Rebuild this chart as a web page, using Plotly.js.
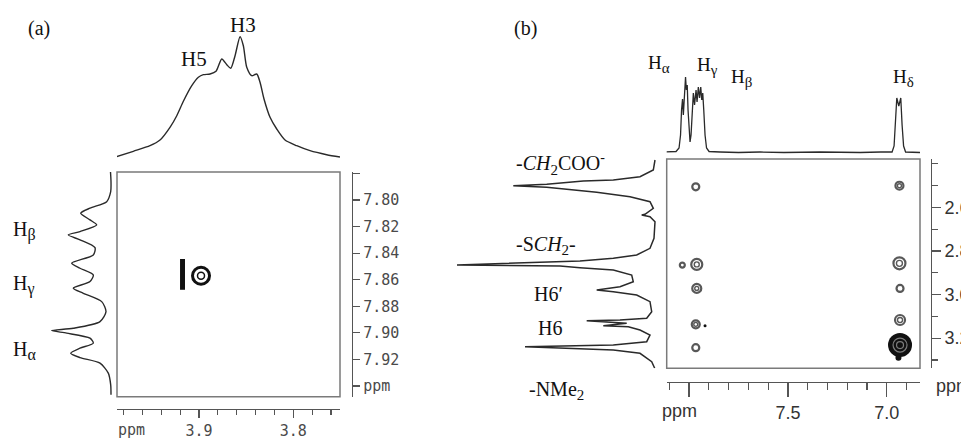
<!DOCTYPE html>
<html><head><meta charset="utf-8">
<script src="https://cdn.plot.ly/plotly-3.0.1.min.js"></script>
<style>html,body{margin:0;padding:0;background:#fff;} #chart{width:961px;height:439px;}</style>
</head><body><div id="chart"></div>
<script>
// ---------------- Panel (a) data ----------------
const aTopPpm = [3.9873, 3.9697, 3.952, 3.9414, 3.9308, 3.9236, 3.9166, 3.9077, 3.9007, 3.8954, 3.8883, 3.882, 3.8759, 3.8706, 3.8664, 3.8618, 3.8565, 3.853, 3.8494, 3.8441, 3.8388, 3.8353, 3.8311, 3.8247, 3.8176, 3.8088, 3.7964, 3.7823, 3.7646, 3.7505];
const aTopInt = [0.3, 5.7, 11.3, 17, 29.7, 41.3, 55.7, 71.3, 79.7, 82.3, 83, 85.7, 98, 92.3, 88.7, 101.3, 120.3, 111.3, 89.7, 81.3, 83, 74.7, 58, 39.7, 28, 17, 11.3, 6.3, 2.3, 0];
const aLeftPpm = [7.779, 7.7862, 7.7938, 7.8013, 7.8062, 7.81, 7.815, 7.8188, 7.8238, 7.8263, 7.83, 7.8359, 7.8414, 7.8476, 7.8514, 7.8564, 7.8614, 7.8664, 7.8702, 7.8765, 7.884, 7.8915, 7.8965, 7.8983, 7.9002, 7.904, 7.9077, 7.9115, 7.9153, 7.9186, 7.9228, 7.9303, 7.9391, 7.9466];
const aLeftInt = [0.5, 0, 0.3, 4.3, 21, 30.3, 21, 14.3, 31, 42.7, 31, 16, 17.7, 39.3, 31, 17.7, 21, 37.7, 27.7, 9.3, 5, 11, 37.7, 59.3, 44.3, 21, 17.7, 31, 40.3, 31, 11, 2.7, 0.3, 0];
const aCrossX = [3.9175, 3.8979];
const aCrossY = [7.856, 7.857];
const aXTickVals = [3.9, 3.8];
const aXTickText = ["3.9", "3.8"];
const aYTickVals = [7.78, 7.80, 7.82, 7.84, 7.86, 7.88, 7.90, 7.92, 7.94];
const aYTickText = ["", "7.80", "7.82", "7.84", "7.86", "7.88", "7.90", "7.92", "ppm"];

// ---------------- Panel (b) data ----------------
const bTopPpm = [8.1214, 8.0658, 8.0506, 8.043, 8.0379, 8.0329, 8.0288, 8.0228, 8.0177, 8.0137, 8.0091, 8.0051, 8.0, 7.9949, 7.9899, 7.9848, 7.9782, 7.9722, 7.9646, 7.9595, 7.953, 7.9469, 7.9408, 7.9358, 7.9307, 7.9256, 7.9191, 7.9115, 7.8988, 7.8432, 7.75, 7.6409, 7.52, 7.3374, 7.2, 7.135, 7.03, 6.9732, 6.9631, 6.9555, 6.9494, 6.9393, 6.9292, 6.9226, 6.915, 6.9049, 6.87, 6.8316];
const bTopInt = [1, 1.5, 5, 18, 43, 54, 38, 58, 76, 63, 68, 43, 18, 11, 18, 43, 60, 48, 63, 51, 66, 55, 66, 53, 60, 43, 18, 5, 1.5, 1, 0.5, 1, 0.5, 1, 0.5, 0.5, 1, 1, 7, 28, 55, 47, 55, 28, 7, 1, 0.5, 0.5];
const bLeftPpm = [2.383, 2.4289, 2.4596, 2.4748, 2.4794, 2.4945, 2.5009, 2.5083, 2.5174, 2.5312, 2.5514, 2.5743, 2.6046, 2.6321, 2.6353, 2.6431, 2.6661, 2.7422, 2.7881, 2.8188, 2.8339, 2.8463, 2.8647, 2.867, 2.8693, 2.8771, 2.8876, 2.9106, 2.9413, 2.9642, 2.9794, 2.9872, 3.0023, 3.033, 3.0789, 3.1092, 3.117, 3.1202, 3.1321, 3.1431, 3.1477, 3.1628, 3.1858, 3.2165, 3.2317, 3.2394, 3.2468, 3.2546, 3.2697, 3.3083, 3.3385];
const bLeftInt = [1, 2.7, 16, 42.7, 72.7, 109.3, 142.7, 109.3, 89.3, 59.3, 26, 6, 2.7, 11, 14.3, 6, 1, 2, 6, 19.3, 42.7, 76, 199, 116, 96, 76, 42.7, 24.3, 22.7, 36, 59.3, 42.7, 19.3, 6, 4.3, 9.3, 36, 69.3, 29.3, 52.7, 27.7, 16, 6, 9.3, 42.7, 131, 92.7, 42.7, 16, 4.3, 1.3];
const bCrossX = [7.966, 7.961, 8.034, 7.961, 7.966, 7.919, 7.966, 6.936, 6.936, 6.933, 6.933, 6.933, 6.941];
const bCrossY = [2.506, 2.862, 2.865, 2.972, 3.137, 3.143, 3.244, 2.501, 2.857, 2.972, 3.117, 3.232, 3.290];
const bXTickVals = [8.0, 7.5, 7.0];
const bXTickText = ["", "7.5", "7.0"];
const bYTickVals = [2.6, 2.8, 3.0, 3.2];
const bYTickText = ["2.6", "2.8", "3.0", "3.2"];

// ---------------- styling / layout helpers ----------------
const W = 961, H = 439;
const fx = p => p / W, fy = p => 1 - p / H;
const ink = '#2a2a2a', axc = '#555', boxc = '#7a7a7a';
const monoA = {family: 'DejaVu Sans Mono, monospace', size: 15, color: '#4a4a4a'};
const sansB = {family: 'Liberation Sans, Arial, sans-serif', size: 18, color: '#333'};
const serif = s => ({family: 'Liberation Serif, Times New Roman, serif', size: s, color: '#111'});
const sub = (t, s) => '<sub><span style="font-size:' + s + 'px;color:#111">' + t + '</span></sub>';

// contour marker styles (per cross-peak, pixel sizes)
const bRingSize  = [7, 11, 5, 9, 8, 0, 7, 8, 12, 7, 10, 0, 0];
const bInnerSize = [0, 5, 0, 4, 4, 0, 0, 4, 6, 0, 5, 0, 0];
const bDotSize   = [0, 0, 0, 0, 0, 3, 0, 0, 0, 0, 0, 24, 6];
const bLightSize = [0, 0, 0, 0, 0, 0, 0, 0, 0, 0, 0, 14, 0];
const bLight2Size= [0, 0, 0, 0, 0, 0, 0, 0, 0, 0, 0, 7, 0];
function pick(arr, sizes) { const o = []; sizes.forEach((s, i) => { if (s > 0) o.push(arr[i]); }); return o; }
function sz(sizes) { return sizes.filter(s => s > 0); }

const traces = [
  // (a) projections
  {x: aTopPpm, y: aTopInt, xaxis: 'x2', yaxis: 'y2', mode: 'lines', line: {color: ink, width: 1.4, shape: 'spline', smoothing: 0.7}, hoverinfo: 'skip'},
  {x: aLeftInt, y: aLeftPpm, xaxis: 'x3', yaxis: 'y3', mode: 'lines', line: {color: ink, width: 1.4, shape: 'spline', smoothing: 0.7}, hoverinfo: 'skip'},
  // (a) cross peaks
  {x: [aCrossX[0]], y: [aCrossY[0]], xaxis: 'x', yaxis: 'y', mode: 'markers', cliponaxis: false,
   marker: {symbol: 'line-ns', size: 22, color: '#111', line: {width: 5, color: '#111'}}},
  {x: [aCrossX[1]], y: [aCrossY[1]], xaxis: 'x', yaxis: 'y', mode: 'markers', cliponaxis: false,
   marker: {symbol: 'circle-open', size: 17, color: '#111', line: {width: 3, color: '#111'}}},
  {x: [aCrossX[1]], y: [aCrossY[1]], xaxis: 'x', yaxis: 'y', mode: 'markers', cliponaxis: false,
   marker: {symbol: 'circle-open', size: 7, color: '#111', line: {width: 1.5, color: '#111'}}},
  // (b) projections
  {x: bTopPpm, y: bTopInt, xaxis: 'x5', yaxis: 'y5', mode: 'lines', line: {color: ink, width: 1.3}, hoverinfo: 'skip'},
  {x: bLeftInt, y: bLeftPpm, xaxis: 'x6', yaxis: 'y6', mode: 'lines', line: {color: ink, width: 1.5}, hoverinfo: 'skip'},
  // (b) cross peaks
  {x: pick(bCrossX, bDotSize), y: pick(bCrossY, bDotSize), xaxis: 'x4', yaxis: 'y4', mode: 'markers', cliponaxis: false,
   marker: {symbol: 'circle', size: sz(bDotSize), color: '#111', opacity: 1, line: {width: 0}}},
  {x: pick(bCrossX, bLightSize), y: pick(bCrossY, bLightSize), xaxis: 'x4', yaxis: 'y4', mode: 'markers', cliponaxis: false,
   marker: {symbol: 'circle-open', size: sz(bLightSize), color: '#aaaaaa', line: {width: 1.2, color: '#aaaaaa'}}},
  {x: pick(bCrossX, bLight2Size), y: pick(bCrossY, bLight2Size), xaxis: 'x4', yaxis: 'y4', mode: 'markers', cliponaxis: false,
   marker: {symbol: 'circle-open', size: sz(bLight2Size), color: '#aaaaaa', line: {width: 1.2, color: '#aaaaaa'}}},
  {x: pick(bCrossX, bRingSize), y: pick(bCrossY, bRingSize), xaxis: 'x4', yaxis: 'y4', mode: 'markers', cliponaxis: false,
   marker: {symbol: 'circle-open', size: sz(bRingSize), color: '#111', line: {width: 2.2, color: '#111'}}},
  {x: pick(bCrossX, bInnerSize), y: pick(bCrossY, bInnerSize), xaxis: 'x4', yaxis: 'y4', mode: 'markers', cliponaxis: false,
   marker: {symbol: 'circle-open', size: sz(bInnerSize), color: '#111', line: {width: 1.4, color: '#111'}}}
];

const aX = {domain: [fx(117), fx(340)], range: [3.987, 3.7505]};
const aY = {domain: [fy(396.7), fy(172)], range: [7.948, 7.779]};
const bX = {domain: [fx(666.7), fx(920)], range: [8.113, 6.832]};
const bY = {domain: [fy(368.3), fy(159)], range: [3.3385, 2.3784]};
const hidden = {visible: false, showgrid: false, zeroline: false, fixedrange: true};
const shown = {showline: true, linecolor: axc, linewidth: 1.2, ticks: 'outside', tickcolor: axc, tickwidth: 1.2,
               showgrid: false, zeroline: false, fixedrange: true, tickmode: 'array'};

function ann(text, x, y, font, xanchor, yanchor) {
  return {text: text, x: fx(x), y: fy(y), xref: 'paper', yref: 'paper', showarrow: false, font: font,
          xanchor: xanchor || 'center', yanchor: yanchor || 'middle', borderpad: 0};
}

const layout = {
  width: W, height: H, margin: {l: 0, r: 0, t: 0, b: 0},
  paper_bgcolor: '#fff', plot_bgcolor: 'rgba(0,0,0,0)', showlegend: false,
  xaxis: Object.assign({}, shown, aX, {anchor: 'free', position: fy(409), ticklen: 8, tickvals: aXTickVals, ticktext: aXTickText, tickfont: monoA,
         minor: {dtick: 0.02, tick0: 3.8, ticks: 'outside', ticklen: 5, tickwidth: 1.2, tickcolor: axc, showgrid: false}}),
  yaxis: Object.assign({}, shown, aY, {anchor: 'free', position: fx(352), side: 'right', ticklen: 7, tickvals: aYTickVals, ticktext: aYTickText, tickfont: monoA}),
  xaxis2: Object.assign({}, hidden, aX, {anchor: 'y2'}),
  yaxis2: Object.assign({}, hidden, {domain: [fy(160), fy(27)], range: [-3, 130], anchor: 'x2'}),
  xaxis3: Object.assign({}, hidden, {domain: [fx(45), fx(115)], range: [66, -4], anchor: 'y3'}),
  yaxis3: Object.assign({}, hidden, aY, {anchor: 'x3'}),
  xaxis4: Object.assign({}, shown, bX, {anchor: 'free', position: fy(382), ticklen: 14, tickvals: bXTickVals, ticktext: bXTickText, tickfont: sansB,
          minor: {dtick: 0.1, tick0: 7.0, ticks: 'outside', ticklen: 7, tickwidth: 1.2, tickcolor: axc, showgrid: false}}),
  yaxis4: Object.assign({}, shown, bY, {anchor: 'free', position: fx(930.7), side: 'right', ticklen: 9, tickvals: bYTickVals, ticktext: bYTickText, tickfont: sansB,
          minor: {dtick: 0.1, tick0: 2.4, ticks: 'outside', ticklen: 6, tickwidth: 1.2, tickcolor: axc, showgrid: false}}),
  xaxis5: Object.assign({}, hidden, bX, {anchor: 'y5'}),
  yaxis5: Object.assign({}, hidden, {domain: [fy(156), fy(60)], range: [-3, 93], anchor: 'x5'}),
  xaxis6: Object.assign({}, hidden, {domain: [fx(440), fx(660)], range: [216, -4], anchor: 'y6'}),
  yaxis6: Object.assign({}, hidden, bY, {anchor: 'x6'}),
  shapes: [
    {type: 'rect', xref: 'x domain', yref: 'y domain', x0: 0, x1: 1, y0: 0, y1: 1, line: {color: boxc, width: 1.5}},
    {type: 'rect', xref: 'x4 domain', yref: 'y4 domain', x0: 0, x1: 1, y0: 0, y1: 1, line: {color: boxc, width: 1.5}}
  ],
  annotations: [
    ann('(a)', 38.5, 28.5, serif(20)),
    ann('H5', 194, 59, serif(21)),
    ann('H3', 243, 25, serif(21)),
    ann('H' + sub('β', 16), 12, 231, serif(20), 'left'),
    ann('H' + sub('γ', 16), 12, 285, serif(20), 'left'),
    ann('H' + sub('α', 16), 12, 350, serif(20), 'left'),
    ann('ppm', 131, 430, monoA),
    ann('(b)', 525, 28, serif(20)),
    ann('H' + sub('α', 15), 647, 64, serif(19), 'left'),
    ann('H' + sub('γ', 15), 696, 66, serif(19), 'left'),
    ann('H' + sub('β', 15), 730, 78, serif(19), 'left'),
    ann('H' + sub('δ', 15), 892, 78, serif(19), 'left'),
    ann('-<i>CH</i>' + sub('2', 15) + 'COO<sup>-</sup>', 515, 164, serif(20), 'left'),
    ann('-S<i>CH</i>' + sub('2', 15) + '-', 515, 245, serif(20), 'left'),
    ann('H6′', 533, 294, serif(20), 'left'),
    ann('H6', 537, 328, serif(20), 'left'),
    ann('-NMe' + sub('2', 15), 528, 390, serif(20), 'left'),
    ann('ppm', 679, 411, sansB),
    ann('ppm', 935, 386, sansB, 'left')
  ]
};

Plotly.newPlot('chart', traces, layout, {staticPlot: true, displayModeBar: false});
</script>
</body></html>
